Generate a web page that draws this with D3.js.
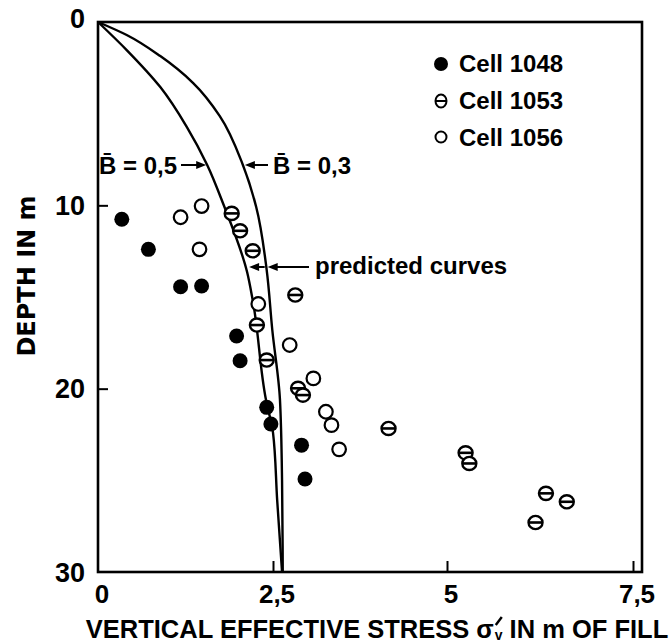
<!DOCTYPE html>
<html>
<head>
<meta charset="utf-8">
<script src="https://cdn.jsdelivr.net/npm/d3@7/dist/d3.min.js"></script>
<style>
  html, body { margin: 0; padding: 0; background: #fff; }
  svg { display: block; }
</style>
</head>
<body>
<svg id="chart" width="670" height="643"></svg>
<script>
// ---------------- DATA ----------------
const xTickValues = [0, 2.5, 5, 7.5];
const xTickLabels = ["0", "2,5", "5", "7,5"];
const yTickValues = [0, 10, 20, 30];
const yTickLabels = ["0", "10", "20", "30"];

const legendLabels = ["Cell 1048", "Cell 1053", "Cell 1056"];

// Cell 1048 (filled circles)
const cell1048Sigma = [0.34, 0.72, 1.18, 1.48, 1.98, 2.03, 2.41, 2.47, 2.91, 2.96];
const cell1048Depth = [10.76, 12.40, 14.44, 14.40, 17.13, 18.48, 21.02, 21.93, 23.08, 24.93];

// Cell 1053 (circle with bar)
const cell1053Sigma = [1.91, 2.03, 2.21, 2.82, 2.27, 2.41, 2.86, 2.93, 4.16, 5.25, 5.30, 6.33, 6.61, 6.19];
const cell1053Depth = [10.44, 11.39, 12.48, 14.89, 16.53, 18.44, 19.98, 20.35, 22.17, 23.50, 24.08, 25.71, 26.17, 27.30];

// Cell 1056 (open circles)
const cell1056Sigma = [1.18, 1.48, 1.45, 2.29, 2.74, 3.08, 3.26, 3.34, 3.45];
const cell1056Depth = [10.65, 10.04, 12.40, 15.38, 17.62, 19.44, 21.26, 21.99, 23.31];

// Predicted curves
const curveB03Depth = [0, 0.71, 1.86, 3.33, 5.13, 7.80, 10.09, 13.53, 16.8, 20.6, 25.0, 30];
const curveB03Sigma = [0, 0.41, 0.89, 1.36, 1.74, 2.07, 2.26, 2.41, 2.49, 2.60, 2.63, 2.64];
const curveB05Depth = [0, 1.53, 3.55, 5.73, 7.80, 9.93, 13.64, 15.17, 20.62, 22.4, 26.08, 30];
const curveB05Sigma = [0, 0.41, 0.89, 1.27, 1.56, 1.79, 2.13, 2.21, 2.40, 2.50, 2.56, 2.63];

// ---------------- LAYOUT ----------------
const svg = d3.select("#chart");
const plotLeft = 98, plotTop = 22, plotBottom = 572, plotRight = 642;

const x = d3.scaleLinear().domain([0, 2.5, 5, 7.5]).range([98, 273, 447, 633]);
const y = d3.scaleLinear().domain([0, 30]).range([plotTop, plotBottom]);

const txt = "'Liberation Sans', Arial, sans-serif";

// frame
svg.append("rect")
  .attr("x", plotLeft).attr("y", plotTop)
  .attr("width", plotRight - plotLeft).attr("height", plotBottom - plotTop)
  .attr("fill", "none").attr("stroke", "#000").attr("stroke-width", 2.6);

// x axis ticks (inward)
const xAxis = d3.axisBottom(x).tickValues(xTickValues.slice(1))
  .tickSizeInner(-11).tickSizeOuter(0).tickFormat("");
const gx = svg.append("g").attr("transform", `translate(0,${plotBottom})`).call(xAxis);
gx.select(".domain").remove();
gx.selectAll(".tick line").attr("stroke", "#000").attr("stroke-width", 2);

// y axis ticks (inward)
const yAxis = d3.axisLeft(y).tickValues(yTickValues.slice(1, 3))
  .tickSizeInner(-10).tickSizeOuter(0).tickFormat("");
const gy = svg.append("g").attr("transform", `translate(${plotLeft},0)`).call(yAxis);
gy.select(".domain").remove();
gy.selectAll(".tick line").attr("stroke", "#000").attr("stroke-width", 2);

// x tick labels
svg.append("g").selectAll("text").data(xTickValues).join("text")
  .attr("x", d => x(d) + 4).attr("y", 603)
  .attr("text-anchor", "middle")
  .attr("font-family", txt).attr("font-weight", "bold").attr("font-size", 26)
  .text((d, i) => xTickLabels[i]);

// y tick labels
svg.append("g").selectAll("text").data(yTickValues).join("text")
  .attr("x", 85).attr("y", d => y(d) - (d === 0 ? 4 : 0))
  .attr("dy", "0.36em")
  .attr("text-anchor", "end")
  .attr("font-family", txt).attr("font-weight", "bold").attr("font-size", 27)
  .text((d, i) => yTickLabels[i]);

// y axis title
svg.append("text")
  .attr("transform", "translate(35,276) rotate(-90)")
  .attr("text-anchor", "middle")
  .attr("font-family", "'DejaVu Sans', sans-serif").attr("font-weight", "bold").attr("font-size", 24)
  .text("DEPTH IN m");

// x axis title, built from pieces so the sigma-prime-v symbol does not overlap
const xtg = svg.append("g");
const fsT = 25.5, baseT = 638;
const p1 = xtg.append("text").attr("x", 0).attr("y", baseT)
  .attr("font-family", txt).attr("font-weight", "bold").attr("font-size", fsT)
  .text("VERTICAL EFFECTIVE STRESS σ");
const w1 = p1.node().getComputedTextLength();
const pv = xtg.append("text").attr("x", w1 + 1).attr("y", 640)
  .attr("font-family", txt).attr("font-weight", "bold").attr("font-size", 14)
  .text("v");
const wv = pv.node().getComputedTextLength();
xtg.append("path")
  .attr("d", `M${w1 + 2},${625} L${w1 + 8},${617}`)
  .attr("stroke", "#000").attr("stroke-width", 2.4).attr("fill", "none");
const p3 = xtg.append("text").attr("x", w1 + wv + 8).attr("y", baseT)
  .attr("font-family", txt).attr("font-weight", "bold").attr("font-size", fsT)
  .text("IN m OF FILL");
const wTot = w1 + wv + 8 + p3.node().getComputedTextLength();
xtg.attr("transform", `translate(${377 - wTot / 2},0)`);

// predicted curves
const line = d3.line().x(d => x(d[0])).y(d => y(d[1])).curve(d3.curveMonotoneY);
const c03 = curveB03Sigma.map((s, i) => [s, curveB03Depth[i]]);
const c05 = curveB05Sigma.map((s, i) => [s, curveB05Depth[i]]);
[c03, c05].forEach(c => {
  svg.append("path").datum(c).attr("d", line)
    .attr("fill", "none").attr("stroke", "#000").attr("stroke-width", 2.4);
});

// arrow helper
function arrow(x1, y1, x2, y2) {
  const dir = Math.sign(x2 - x1);
  svg.append("line").attr("x1", x1).attr("y1", y1).attr("x2", x2 - dir * 6).attr("y2", y2)
    .attr("stroke", "#000").attr("stroke-width", 2);
  svg.append("path")
    .attr("d", `M${x2},${y2} L${x2 - dir * 10},${y2 - 4} L${x2 - dir * 10},${y2 + 4} Z`)
    .attr("fill", "#000");
}

const ann = svg.append("g").attr("font-family", txt).attr("font-weight", "bold").attr("font-size", 24);
ann.append("text").attr("x", 99).attr("y", 174).text("B\u0304 = 0,5");
ann.append("text").attr("x", 273).attr("y", 174).text("B\u0304 = 0,3");
ann.append("text").attr("x", 315).attr("y", 274).text("predicted curves");

arrow(181, 165, x(1.56) - 1, 165);
arrow(268, 165, x(2.07) + 2, 165);
arrow(309, 267, x(2.41) + 1, 267);
arrow(x(2.41) - 2, 267, x(2.13) + 2, 267);

// markers
function dataPts(s, d) { return s.map((v, i) => [v, d[i]]); }

const pts = svg.append("g");
pts.selectAll(".p1048").data(dataPts(cell1048Sigma, cell1048Depth)).join("circle")
  .attr("cx", d => x(d[0])).attr("cy", d => y(d[1])).attr("r", 7.5).attr("fill", "#000");

pts.selectAll(".p1056").data(dataPts(cell1056Sigma, cell1056Depth)).join("circle")
  .attr("cx", d => x(d[0])).attr("cy", d => y(d[1])).attr("r", 6.8)
  .attr("fill", "#fff").attr("stroke", "#000").attr("stroke-width", 2.2);

const th = pts.selectAll(".p1053").data(dataPts(cell1053Sigma, cell1053Depth)).join("g")
  .attr("transform", d => `translate(${x(d[0])},${y(d[1])})`);
th.append("ellipse").attr("rx", 7).attr("ry", 6.6)
  .attr("fill", "#fff").attr("stroke", "#000").attr("stroke-width", 2.4);
th.append("line").attr("x1", -6.5).attr("x2", 6.5).attr("stroke", "#000").attr("stroke-width", 2.6);

// legend
const lg = svg.append("g");
const legX = 441, legTextX = 459, legY = [64, 101, 138];
lg.append("circle").attr("cx", legX).attr("cy", legY[0]).attr("r", 7).attr("fill", "#000");
lg.append("ellipse").attr("cx", legX).attr("cy", legY[1]).attr("rx", 5.5).attr("ry", 6.5)
  .attr("fill", "#fff").attr("stroke", "#000").attr("stroke-width", 2);
lg.append("line").attr("x1", legX - 5).attr("x2", legX + 5).attr("y1", legY[1]).attr("y2", legY[1])
  .attr("stroke", "#000").attr("stroke-width", 2);
lg.append("circle").attr("cx", legX).attr("cy", legY[2] - 1).attr("r", 5.5)
  .attr("fill", "#fff").attr("stroke", "#000").attr("stroke-width", 2);
lg.selectAll("text").data(legendLabels).join("text")
  .attr("x", legTextX).attr("y", (d, i) => legY[i] + 8)
  .attr("font-family", txt).attr("font-weight", "bold").attr("font-size", 24)
  .text(d => d);
</script>
</body>
</html>
